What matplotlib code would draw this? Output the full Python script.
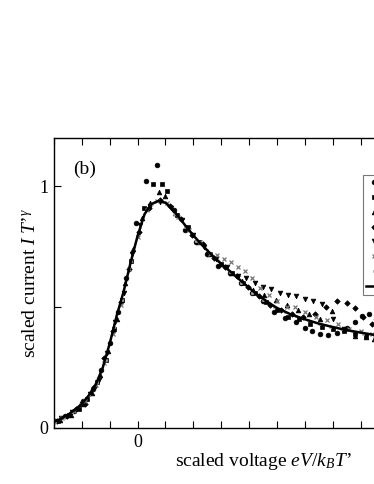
import matplotlib
matplotlib.use("Agg")
import matplotlib.pyplot as plt
from matplotlib.ticker import FixedLocator, FixedFormatter

plt.rcParams['font.family'] = ['Liberation Serif', 'DejaVu Serif']
plt.rcParams['mathtext.fontset'] = 'custom'
plt.rcParams['mathtext.rm'] = 'Liberation Serif'
plt.rcParams['mathtext.it'] = 'Liberation Serif:italic'

# fitted scaling curve
fit_x = [-3.0, -2.75, -2.5, -2.25, -2.0, -1.75, -1.5, -1.25, -1.0, -0.75, -0.5, -0.25,
         0.0, 0.25, 0.5, 0.75, 1.0, 1.25, 1.5, 1.75, 2.0, 2.25, 2.5, 2.75, 3.0, 3.25,
         3.5, 3.75, 4.0, 4.25, 4.5, 4.75, 5.0, 5.5, 6.0, 6.5, 7.0, 7.5, 8.0, 8.5, 9.0,
         10.0, 11.0, 12.0]
fit_y = [0.025, 0.038, 0.055, 0.075, 0.10, 0.135, 0.18, 0.25, 0.35, 0.465, 0.565, 0.685,
         0.795, 0.885, 0.927, 0.94, 0.932, 0.905, 0.87, 0.832, 0.797, 0.765, 0.735, 0.706,
         0.68, 0.655, 0.63, 0.605, 0.58, 0.556, 0.535, 0.515, 0.497, 0.47, 0.45, 0.432,
         0.418, 0.405, 0.395, 0.385, 0.376, 0.36, 0.347, 0.336]

s1_x = [-2.95, -2.6, -2.3, -1.95, -1.6, -1.3, -1.0, -0.7, -0.4, -0.05, 0.3, 0.69, 1.3, 1.7,
        2.1, 2.5, 2.9, 3.3, 3.7, 4.1, 4.5, 4.9, 5.3, 5.7, 6.0, 6.25, 6.55, 6.85, 7.15, 7.5,
        7.8, 8.05, 8.3, 8.55]
s1_y = [0.03, 0.05, 0.07, 0.11, 0.16, 0.24, 0.35, 0.48, 0.62, 0.85, 1.02, 1.087, 0.90, 0.82,
        0.77, 0.72, 0.67, 0.64, 0.60, 0.56, 0.525, 0.48, 0.455, 0.437, 0.415, 0.40, 0.39,
        0.386, 0.395, 0.414, 0.44, 0.465, 0.47, 0.45]

s2_x = [-2.85, -2.45, -2.1, -1.8, -1.45, -1.15, -0.85, -0.55, -0.25, 0.22, 0.55, 0.89, 1.07,
        1.4, 1.8, 2.2, 2.6, 3.0, 3.4, 3.8, 4.2, 4.6, 5.0, 5.4, 5.8, 6.2, 6.6, 7.0, 7.4, 7.8,
        8.2, 8.6]
s2_y = [0.03, 0.055, 0.08, 0.12, 0.19, 0.28, 0.41, 0.53, 0.69, 0.91, 1.01, 1.01, 0.98,
        0.88, 0.83, 0.77, 0.72, 0.68, 0.64, 0.60, 0.56, 0.52, 0.49, 0.46, 0.45, 0.43, 0.42,
        0.41, 0.40, 0.39, 0.38, 0.37]

s3_x = [-2.8, -2.4, -2.0, -1.65, -1.35, -1.05, -0.75, -0.45, -0.15, 0.15, 0.45, 0.75, 1.0,
        1.35, 1.75, 2.15, 2.55, 2.95, 3.35, 3.75, 4.15, 4.55, 4.95, 5.35, 5.75, 6.15, 6.55,
        6.97, 7.4, 7.8, 8.2, 8.5]
s3_y = [0.035, 0.055, 0.10, 0.145, 0.22, 0.32, 0.45, 0.60, 0.74, 0.87, 0.93, 0.975, 0.96,
        0.89, 0.83, 0.77, 0.72, 0.68, 0.64, 0.61, 0.57, 0.55, 0.53, 0.51, 0.49, 0.47, 0.45,
        0.483, 0.41, 0.38, 0.375, 0.37]

s4_x = [-2.9, -2.55, -2.2, -1.9, -1.55, -1.2, -0.9, -0.6, -0.3, 0.05, 0.4, 0.8, 1.15, 1.55,
        1.95, 2.35, 2.75, 3.15, 3.55, 3.95, 4.35, 4.75, 5.15, 5.55, 5.95, 6.35, 6.75, 7.15,
        7.5, 7.8, 8.1, 8.4]
s4_y = [0.03, 0.05, 0.08, 0.10, 0.17, 0.29, 0.40, 0.52, 0.66, 0.81, 0.91, 0.945, 0.92,
        0.865, 0.80, 0.76, 0.705, 0.665, 0.63, 0.585, 0.545, 0.51, 0.49, 0.47, 0.46, 0.47,
        0.50, 0.524, 0.517, 0.498, 0.46, 0.43]

s5_x = [-2.75, -2.35, -2.0, -1.7, -1.4, -1.1, -0.8, -0.5, -0.2, 0.1, 0.45, 0.8, 1.2, 1.6,
        2.0, 2.4, 2.8, 3.2, 3.6, 3.9, 4.2, 4.5, 4.8, 5.1, 5.4, 5.7, 6.0, 6.3, 6.6, 7.0, 7.4,
        7.8, 8.2, 8.6]
s5_y = [0.04, 0.065, 0.10, 0.14, 0.20, 0.31, 0.44, 0.56, 0.72, 0.84, 0.92, 0.935, 0.91,
        0.86, 0.80, 0.75, 0.70, 0.665, 0.63, 0.62, 0.60, 0.585, 0.575, 0.56, 0.55, 0.545,
        0.535, 0.525, 0.515, 0.45, 0.41, 0.39, 0.38, 0.36]

s6_x = [-2.7, -2.3, -1.9, -1.5, -1.2, -0.9, -0.6, -0.3, 0.0, 0.35, 0.7, 1.05, 1.45, 1.85,
        2.25, 2.6, 2.85, 3.1, 3.35, 3.6, 3.85, 4.1, 4.4, 4.7, 5.0, 5.35, 5.65, 6.0, 6.4, 6.8,
        7.2, 7.6, 8.0, 8.4]
s6_y = [0.04, 0.07, 0.11, 0.18, 0.27, 0.39, 0.51, 0.66, 0.79, 0.90, 0.94, 0.93, 0.875,
        0.82, 0.77, 0.72, 0.715, 0.70, 0.685, 0.665, 0.65, 0.62, 0.58, 0.55, 0.525, 0.50,
        0.50, 0.48, 0.46, 0.445, 0.43, 0.41, 0.40, 0.39]

s7_x = [-2.95, -2.65, -2.35, -2.05, -1.75, -1.45, -1.15, -0.85, -0.55, -0.25, 0.1, 0.5,
        0.9, 1.3, 1.7, 2.1, 2.5, 2.9, 3.3, 3.7, 4.1, 4.5, 4.9, 5.3, 5.7, 6.1, 6.5, 6.9, 7.3,
        7.7, 8.1, 8.5]
s7_y = [0.025, 0.045, 0.065, 0.10, 0.135, 0.19, 0.28, 0.42, 0.53, 0.69, 0.83, 0.925, 0.935,
        0.885, 0.83, 0.775, 0.735, 0.69, 0.645, 0.60, 0.56, 0.53, 0.50, 0.48, 0.465, 0.445,
        0.432, 0.42, 0.41, 0.40, 0.39, 0.38]

series_labels = ["T = 1.5 K", "T = 2 K", "T = 3 K", "T = 4 K", "T = 6 K", "T = 8 K", "T = 12 K"]
fit_label = "fit"

x_ticks = list(range(-3, 13))
x_ticklabels = ["0" if t == 0 else "" for t in x_ticks]
y_ticks = [0, 0.5, 1]
y_ticklabels = ["0", "", "1"]

fig = plt.figure(figsize=(3.74, 4.84), dpi=100)
ax = fig.add_axes([54/374, 56/484, 418/374, 290/484])

styles = [
    dict(marker='o', color='black', ms=3.4),
    dict(marker='s', color='black', ms=3.0),
    dict(marker='^', color='black', ms=3.4),
    dict(marker='D', color='black', ms=2.8),
    dict(marker='v', color='black', ms=3.4),
    dict(marker='x', color='#777777', ms=2.8, mew=0.9),
    dict(marker='.', color='#aaaaaa', ms=3.4),
]
data = [(s1_x, s1_y), (s2_x, s2_y), (s3_x, s3_y), (s4_x, s4_y),
        (s5_x, s5_y), (s6_x, s6_y), (s7_x, s7_y)]
for (xs, ys), st, lab in zip(data, styles, series_labels):
    ax.plot(xs, ys, linestyle='none', marker=st['marker'], color=st['color'],
            markersize=st['ms'], markeredgewidth=st.get('mew', 0.5), label=lab)

ax.plot(fit_x, fit_y, color='black', linewidth=1.8, label=fit_label)

ax.set_xlim(-3, 12)
ax.set_ylim(0, 1.2)
ax.xaxis.set_major_locator(FixedLocator(x_ticks))
ax.xaxis.set_major_formatter(FixedFormatter(x_ticklabels))
ax.yaxis.set_major_locator(FixedLocator(y_ticks))
ax.yaxis.set_major_formatter(FixedFormatter(y_ticklabels))
ax.tick_params(direction='in', length=5, width=0.8, top=True, right=True,
               labelsize=13, pad=4)
for sp in ax.spines.values():
    sp.set_linewidth(1.0)

ax.set_xlabel("scaled voltage $eV/k_BT$’", fontsize=14, labelpad=0)
ax.set_ylabel("scaled current $I\\ T$’$^\\gamma$", fontsize=14, labelpad=0)
ax.text(0.045, 0.891, "(b)", transform=ax.transAxes, fontsize=14, va='center', ha='left')

leg = ax.legend(loc='upper left', bbox_to_anchor=((363-54)/418, (428-175)/290),
                borderaxespad=0, frameon=True, fancybox=False, edgecolor='#555555',
                fontsize=7, handlelength=1.6, handletextpad=1.0, borderpad=0.35,
                labelspacing=0.6, markerscale=1.0, numpoints=1)
leg.get_frame().set_linewidth(0.8)

fig.savefig("out.png", dpi=100)
